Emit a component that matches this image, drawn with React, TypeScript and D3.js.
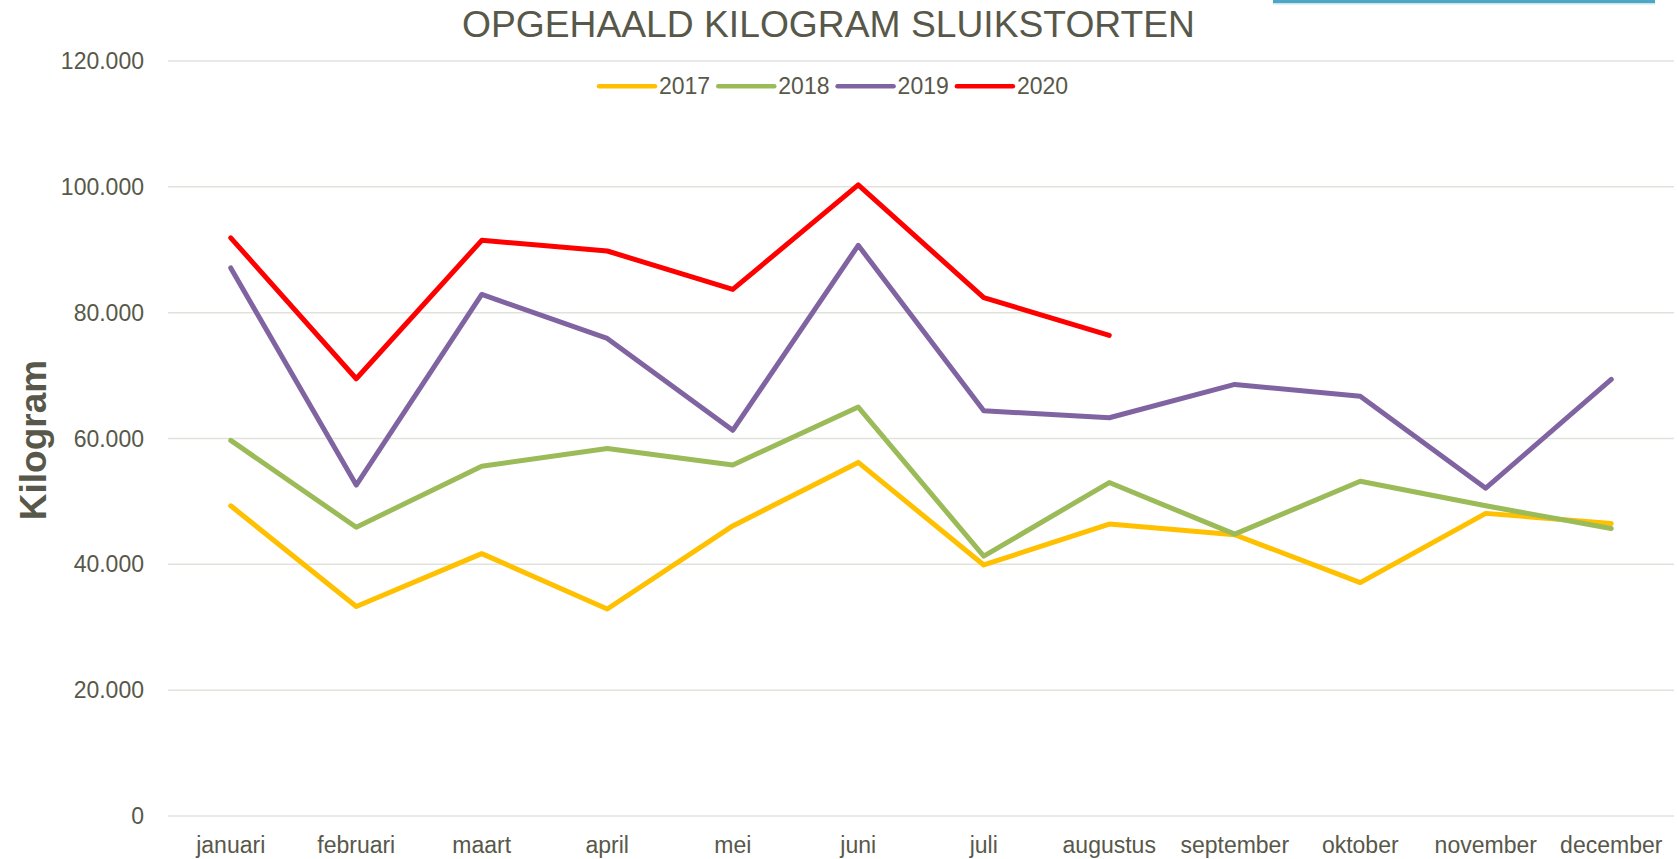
import React from 'react';
import * as d3 from 'd3';

const months = ['januari','februari','maart','april','mei','juni','juli','augustus','september','oktober','november','december'];
const years = ['2017','2018','2019','2020'];
const colors = ['#FFC000','#9BBB59','#8064A2','#FF0000'];

const kg2017 = [49300,33300,41700,32900,46100,56200,39900,46400,44700,37100,48100,46500];
const kg2018 = [59700,45900,55600,58400,55800,65000,41300,53000,44800,53200,49300,45700];
const kg2019 = [87100,52600,82900,75900,61300,90700,64400,63300,68600,66700,52100,69400];
const kg2020 = [91900,69500,91500,89800,83700,100300,82400,76400,null,null,null,null];

const yTicks = [0,20000,40000,60000,80000,100000,120000];

const W = 1677, H = 859;
const left = 168, right = 1674, top = 61, bottom = 816;
const textColor = '#58584a';
const font = '"Liberation Sans", Arial, sans-serif';

const nl = d3.formatLocale({decimal: ',', thousands: '.', grouping: [3], currency: ['€', '']});
const fmt = nl.format(',d');

export default function App() {
  const series = [kg2017, kg2018, kg2019, kg2020];
  const x = d3.scalePoint<string>().domain(months).range([left, right]).padding(0.5);
  const y = d3.scaleLinear().domain([0, 120000]).range([bottom, top]);
  const line = d3.line<number | null>()
    .defined(d => d != null)
    .x((d, i) => x(months[i]) as number)
    .y(d => y(d as number));

  const legendStart = 599;
  const legendStep = 119.3;

  return (
    <svg width={W} height={H} style={{position: 'absolute', left: 0, top: 0, background: '#fff'}} fontFamily={font}>
      <rect x={1273} y={0} width={382} height={3} fill="#4ea6c2" />
      <rect x={1273} y={3} width={382} height={1.5} fill="#c4e6f0" />

      <text x={462} y={37} fontSize={37} fill={textColor} textLength={733} lengthAdjust="spacingAndGlyphs">OPGEHAALD KILOGRAM SLUIKSTORTEN</text>

      {yTicks.map(t => (
        <g key={t}>
          <line x1={left} x2={right} y1={y(t)} y2={y(t)} stroke="#e2e2dc" strokeWidth={1.5} />
          <text x={144} y={y(t)} dy="0.35em" textAnchor="end" fontSize={23} fill={textColor}>{fmt(t)}</text>
        </g>
      ))}

      {months.map(m => (
        <text key={m} x={x(m)} y={853} textAnchor="middle" fontSize={23} fill={textColor}>{m}</text>
      ))}

      <text transform={`translate(46,440) rotate(-90)`} textAnchor="middle" fontSize={37} fontWeight="bold" fill={textColor}>Kilogram</text>

      {series.map((s, i) => (
        <path key={years[i]} d={line(s) || ''} fill="none" stroke={colors[i]} strokeWidth={5} strokeLinejoin="round" strokeLinecap="round" />
      ))}

      {years.map((yr, i) => {
        const lx = legendStart + i * legendStep;
        return (
          <g key={yr}>
            <line x1={lx} x2={lx + 56} y1={86.3} y2={86.3} stroke={colors[i]} strokeWidth={4.5} strokeLinecap="round" />
            <text x={lx + 60} y={94} fontSize={23} fill={textColor}>{yr}</text>
          </g>
        );
      })}
    </svg>
  );
}
